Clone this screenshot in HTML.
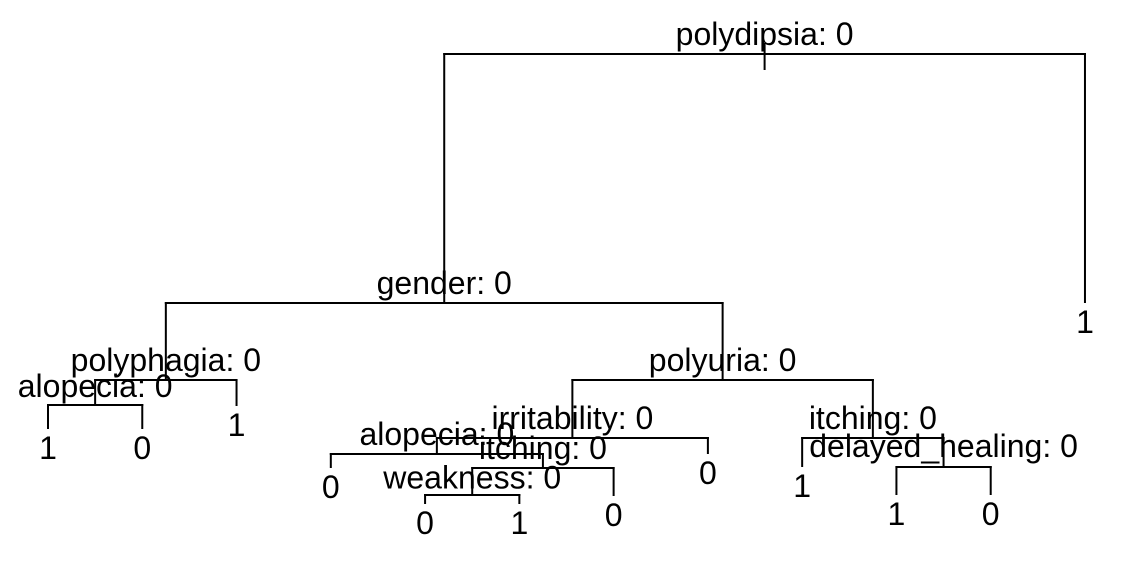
<!DOCTYPE html>
<html lang="en">
<head>
<meta charset="utf-8">
<title>Decision tree</title>
<style>
html,body{margin:0;padding:0;background:#fff;}
#tree-chart{display:block;width:1125px;height:561px;background:#fff;}
#tree-chart text{font-family:"Liberation Sans",Arial,sans-serif;font-size:32px;fill:#000;text-anchor:middle;}
#tree-chart line{stroke:#000;stroke-width:2;stroke-linecap:square;}
</style>
</head>
<body>
<svg id="tree-chart" xmlns="http://www.w3.org/2000/svg" width="1125" height="561" viewBox="0 0 1125 561"></svg>
<script>
// Tree nodes in pre-order.
const nodeLabels = [
  "polydipsia: 0", "gender: 0", "polyphagia: 0", "alopecia: 0", "1", "0", "1",
  "polyuria: 0", "irritability: 0", "alopecia: 0", "0", "itching: 0", "weakness: 0",
  "0", "1", "0", "0", "itching: 0", "1", "delayed_healing: 0", "1", "0", "1"
];
const nodeParents = [-1, 0, 1, 2, 3, 3, 2, 1, 7, 8, 9, 9, 11, 12, 12, 11, 8, 7, 17, 17, 19, 19, 0];
const nodeDeviance = [500, 251, 174, 149, 126, 126, 149, 174, 116, 100, 87, 86, 59, 51, 51, 59, 101, 116, 88, 87, 60, 60, 252];

const svg = document.getElementById('tree-chart');
const NS = 'http://www.w3.org/2000/svg';

function xScale(leafIndex) { return 48 + leafIndex * 94.27; }
function yScale(deviance) { return 54 + (500 - deviance); }

// Small label adjustments for overlapping split labels (node index -> px).
const LABEL_NUDGE = { 3: 1, 12: 2.5, 19: -1 };

const childrenOf = nodeLabels.map(function () { return []; });
nodeParents.forEach(function (parent, i) {
  if (parent >= 0) childrenOf[parent].push(i);
});

const nodeX = [];
let leafCounter = 0;
function placeNode(i) {
  if (childrenOf[i].length === 0) {
    nodeX[i] = xScale(leafCounter);
    leafCounter += 1;
    return;
  }
  childrenOf[i].forEach(placeNode);
  const xs = childrenOf[i].map(function (c) { return nodeX[c]; });
  nodeX[i] = (xs[0] + xs[xs.length - 1]) / 2;
}
placeNode(0);

function drawLine(x1, y1, x2, y2, name) {
  const el = document.createElementNS(NS, 'line');
  el.setAttribute('x1', x1);
  el.setAttribute('y1', y1);
  el.setAttribute('x2', x2);
  el.setAttribute('y2', y2);
  
  
  svg.appendChild(el);
}

function drawText(x, y, content, name) {
  const el = document.createElementNS(NS, 'text');
  el.setAttribute('x', x);
  el.setAttribute('y', y);
  
  
  el.textContent = content;
  svg.appendChild(el);
}

// Root stem
drawLine(nodeX[0], yScale(nodeDeviance[0]) - 10, nodeX[0], yScale(nodeDeviance[0]) + 15, 'root-stem');

// Branches
nodeLabels.forEach(function (label, i) {
  const parent = nodeParents[i];
  if (parent >= 0) {
    drawLine(nodeX[i], yScale(nodeDeviance[parent]), nodeX[i], yScale(nodeDeviance[i]), 'branch-stem-' + i);
  }
  const kids = childrenOf[i];
  if (kids.length) {
    drawLine(nodeX[kids[0]], yScale(nodeDeviance[i]), nodeX[kids[kids.length - 1]], yScale(nodeDeviance[i]), 'split-bar-' + i);
  }
});

// Labels
nodeLabels.forEach(function (label, i) {
  const isLeaf = childrenOf[i].length === 0;
  const nudge = LABEL_NUDGE[i] || 0;
  const baseline = (isLeaf ? yScale(nodeDeviance[i]) + 31 : yScale(nodeDeviance[i]) - 9) + nudge;
  drawText(nodeX[i], baseline, label, isLeaf ? 'leaf-label-' + i : 'split-label-' + i);
});
</script>
</body>
</html>
